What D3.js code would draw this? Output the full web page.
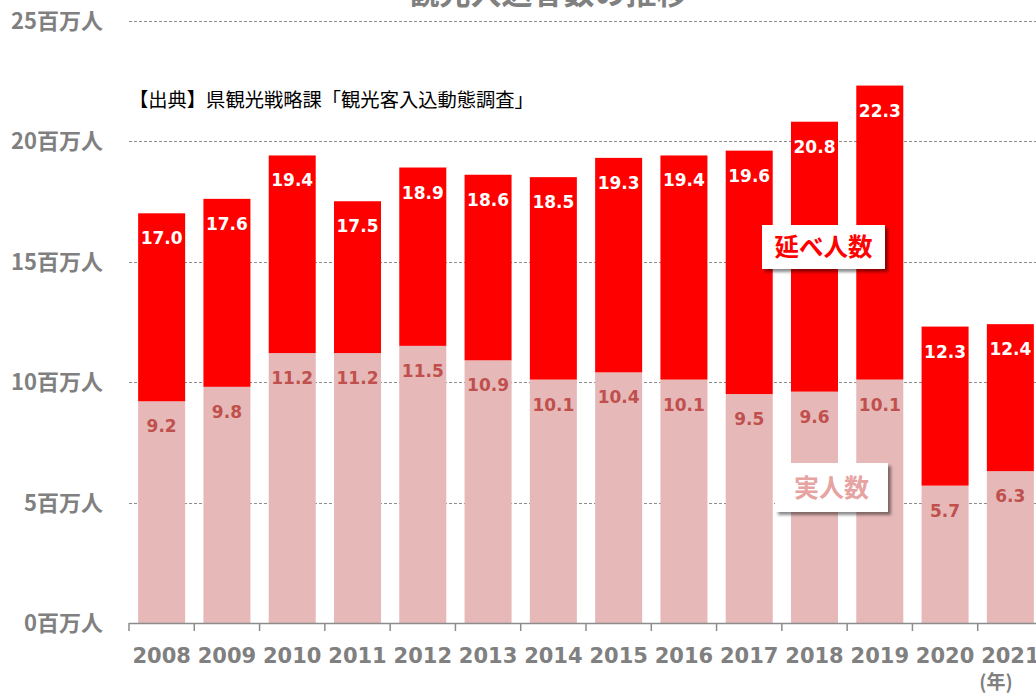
<!DOCTYPE html>
<html>
<head>
<meta charset="utf-8">
<script src="https://cdn.jsdelivr.net/npm/d3@7"></script>
<style>
  body { margin: 0; background: #fff; }
  svg { display: block; }
</style>
</head>
<body>
<svg width="1036" height="695"></svg>
<script>
const years = ["2008", "2009", "2010", "2011", "2012", "2013", "2014", "2015", "2016", "2017", "2018", "2019", "2020", "2021"];
const totalVisitors = [17.0, 17.6, 19.4, 17.5, 18.9, 18.6, 18.5, 19.3, 19.4, 19.6, 20.8, 22.3, 12.3, 12.4];
const realVisitors = [9.2, 9.8, 11.2, 11.2, 11.5, 10.9, 10.1, 10.4, 10.1, 9.5, 9.6, 10.1, 5.7, 6.3];
const yTicks = [0, 5, 10, 15, 20, 25];

const svg = d3.select("svg"),
  width = +svg.attr("width"),
  height = +svg.attr("height");

const jp = "'Noto Sans CJK JP', 'Noto Sans', sans-serif";
const num = "'DejaVu Sans', Verdana, sans-serif";

const x = d3.scaleBand()
  .domain(years)
  .range([129, 1043])
  .paddingInner(0.28)
  .paddingOuter(0.14);

const y = d3.scaleLinear()
  .domain([0, 25])
  .range([623, 20.5]);

const defs = svg.append("defs");
defs.append("filter")
  .attr("id", "shadow")
  .attr("x", "-20%").attr("y", "-30%")
  .attr("width", "140%").attr("height", "170%")
  .append("feDropShadow")
  .attr("dx", 3).attr("dy", 3)
  .attr("stdDeviation", 1.5)
  .attr("flood-color", "#000")
  .attr("flood-opacity", 0.45);

// grid lines
svg.append("g")
  .selectAll("line")
  .data(yTicks.filter(d => d > 0))
  .enter().append("line")
  .attr("x1", 129)
  .attr("x2", width)
  .attr("y1", d => Math.round(y(d)) + 0.5)
  .attr("y2", d => Math.round(y(d)) + 0.5)
  .attr("stroke", "#8c8c8c")
  .attr("stroke-width", 1)
  .attr("stroke-dasharray", "3,2");

// y labels
svg.append("g")
  .selectAll("text")
  .data(yTicks)
  .enter().append("text")
  .attr("x", 103)
  .attr("y", d => y(d) + 8)
  .attr("text-anchor", "end")
  .attr("font-family", jp)
  .attr("font-weight", "bold")
  .attr("font-size", 22)
  .attr("fill", "#808080")
  .text(d => d + "百万人");

// real bars (from zero)
svg.append("g")
  .selectAll("rect")
  .data(years)
  .enter().append("rect")
  .attr("x", d => x(d))
  .attr("width", x.bandwidth())
  .attr("y", (d, i) => y(realVisitors[i]))
  .attr("height", (d, i) => y(0) - y(realVisitors[i]))
  .attr("fill", "#e6b8b7");

// total bars (part above the real bar)
svg.append("g")
  .selectAll("rect")
  .data(years)
  .enter().append("rect")
  .attr("x", d => x(d))
  .attr("width", x.bandwidth())
  .attr("y", (d, i) => y(totalVisitors[i]))
  .attr("height", (d, i) => y(realVisitors[i]) - y(totalVisitors[i]))
  .attr("fill", "#ff0000");

// value labels
svg.append("g")
  .selectAll("text")
  .data(years)
  .enter().append("text")
  .attr("x", d => x(d) + x.bandwidth() / 2)
  .attr("y", (d, i) => y(totalVisitors[i]) + 31)
  .attr("text-anchor", "middle")
  .attr("font-family", num)
  .attr("font-weight", "bold")
  .attr("font-size", 17)
  .attr("fill", "#fff")
  .text((d, i) => totalVisitors[i].toFixed(1));

svg.append("g")
  .selectAll("text")
  .data(years)
  .enter().append("text")
  .attr("x", d => x(d) + x.bandwidth() / 2)
  .attr("y", (d, i) => y(realVisitors[i]) + 31)
  .attr("text-anchor", "middle")
  .attr("font-family", num)
  .attr("font-weight", "bold")
  .attr("font-size", 17)
  .attr("fill", "#c0504d")
  .text((d, i) => realVisitors[i].toFixed(1));

// x axis
const axis = svg.append("g").attr("stroke", "#8c8c8c").attr("stroke-width", 1.5);
axis.append("line")
  .attr("x1", 129).attr("x2", width)
  .attr("y1", 623.5).attr("y2", 623.5);
axis.selectAll(".tick")
  .data(years)
  .enter().append("line")
  .attr("x1", d => x(d) - x.step() * x.paddingInner() / 2)
  .attr("x2", d => x(d) - x.step() * x.paddingInner() / 2)
  .attr("y1", 623).attr("y2", 631);

svg.append("g")
  .selectAll("text")
  .data(years)
  .enter().append("text")
  .attr("x", d => x(d) + x.bandwidth() / 2)
  .attr("y", 663)
  .attr("text-anchor", "middle")
  .attr("font-family", num)
  .attr("font-weight", "bold")
  .attr("font-size", 21)
  .attr("fill", "#808080")
  .text(d => d);

svg.append("text")
  .attr("x", 996).attr("y", 689)
  .attr("text-anchor", "middle")
  .attr("font-family", jp)
  .attr("font-weight", "bold")
  .attr("font-size", 19)
  .attr("fill", "#808080")
  .text("(年)");

// title (partly cut off at the top)
svg.append("text")
  .attr("x", 548).attr("y", 4)
  .attr("text-anchor", "middle")
  .attr("font-family", jp)
  .attr("font-weight", "bold")
  .attr("font-size", 31)
  .attr("fill", "#808080")
  .text("観光入込客数の推移");

// source
svg.append("text")
  .attr("x", 129).attr("y", 107)
  .attr("font-family", jp)
  .attr("font-size", 19.3)
  .attr("fill", "#000")
  .text("【出典】県観光戦略課「観光客入込動態調査」");

// legend boxes
const legend = [
  { label: "延べ人数", x: 762, y: 225, w: 123, h: 44, color: "#ff0000", size: 24.5 },
  { label: "実人数", x: 775, y: 463, w: 113, h: 49, color: "#e6a3a2", size: 25 }
];
const lg = svg.append("g")
  .selectAll("g")
  .data(legend)
  .enter().append("g");
lg.append("rect")
  .attr("x", d => d.x).attr("y", d => d.y)
  .attr("width", d => d.w).attr("height", d => d.h)
  .attr("fill", "#fff")
  .attr("filter", "url(#shadow)");
lg.append("text")
  .attr("x", d => d.x + d.w / 2)
  .attr("y", d => d.y + d.h / 2 + d.size * 0.36)
  .attr("text-anchor", "middle")
  .attr("font-family", jp)
  .attr("font-weight", "bold")
  .attr("font-size", d => d.size)
  .attr("fill", d => d.color)
  .text(d => d.label);
</script>
</body>
</html>
